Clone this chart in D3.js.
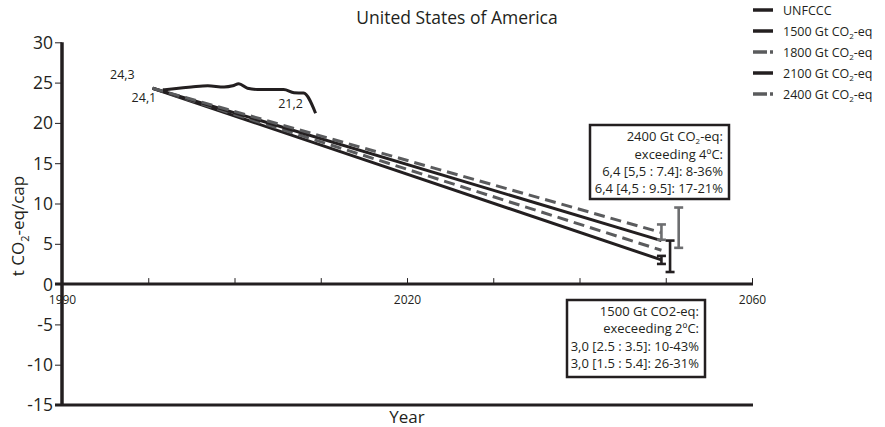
<!DOCTYPE html>
<html>
<head>
<meta charset="utf-8">
<script src="https://cdn.jsdelivr.net/npm/d3@7"></script>
<style>
  html, body { margin: 0; padding: 0; background: #fff; }
  svg { display: block; font-family: "Open Sans", sans-serif; }
</style>
</head>
<body>
<svg id="chart" width="885" height="427"></svg>
<script>
// ---- data ----
const title = "United States of America";
const xTickYears = [1980, 1990, 2000, 2010, 2020, 2030, 2040, 2050, 2060];
const xTickLabels = ["1990", "", "", "", "2020", "", "", "", "2060"];
const yTicks = [-15, -10, -5, 0, 5, 10, 15, 20, 25, 30];

// reported inventory (UNFCCC), t CO2-eq per capita
const unfYears  = [1991.7, 1993.0, 1995.0, 1996.9, 1998.8, 1999.8, 2000.5, 2001.5, 2002.7, 2005.7, 2006.9, 2008.0, 2009.4];
const unfValues = [24.1, 24.25, 24.45, 24.6, 24.45, 24.6, 24.85, 24.3, 24.15, 24.15, 23.75, 23.7, 21.2];

// budget pathways: start and end values
const scenarioNames = ["1500 Gt CO2-eq", "1800 Gt CO2-eq", "2100 Gt CO2-eq", "2400 Gt CO2-eq"];
const scenarioYears = [1990.5, 2049.5];
const scenarioStart = [24.3, 24.3, 24.3, 24.3];
const scenarioEnd   = [3.0, 4.2, 5.4, 6.4];
const scenarioDashed = [false, true, false, true];

// uncertainty ranges at 2050
const rangeNames = ["1500 narrow", "1500 wide", "2400 narrow", "2400 wide"];
const rangeYears = [2049.5, 2050.5, 2049.5, 2051.5];
const rangeLow   = [2.5, 1.5, 5.5, 4.5];
const rangeHigh  = [3.5, 5.4, 7.4, 9.5];
const rangeGray  = [false, false, true, true];

const legendNames = ["UNFCCC", "1500 Gt CO", "1800 Gt CO", "2100 Gt CO", "2400 Gt CO"];
const legendDashed = [false, false, true, false, true];

const box4Lines = ["2400 Gt CO|2|-eq:", "exceeding 4ºC:", "6,4 [5,5 : 7.4]: 8-36%", "6,4 [4,5 : 9.5]: 17-21%"];
const box2Lines = ["1500 Gt CO2-eq:", "execeeding 2ºC:", "3,0 [2.5 : 3.5]: 10-43%", "3,0 [1.5 : 5.4]: 26-31%"];

// ---- drawing ----
const BLACK = "#231f20", DASH = "#5a5b5d", GRAYBAR = "#6d6e70";
const svg = d3.select("#chart");

const x = d3.scaleLinear().domain([1980, 2060]).range([62, 752]);
const y = d3.scaleLinear().domain([-15, 30]).range([405, 42.3]);

// title
svg.append("text").attr("x", 457).attr("y", 24).attr("text-anchor", "middle")
  .attr("font-size", 17.5).attr("fill", BLACK).text(title);

// y axis
const yAxis = svg.append("g").attr("transform", `translate(${x(1980)},0)`)
  .call(d3.axisLeft(y).tickValues(yTicks).tickSize(7).tickPadding(2).tickFormat(d => String(d)));
yAxis.select(".domain").remove();
yAxis.selectAll(".tick line").attr("stroke", BLACK).attr("stroke-width", 1);
yAxis.selectAll(".tick text").attr("font-size", 17.5).attr("fill", BLACK)
  .attr("font-family", "'Open Sans', sans-serif").attr("dy", "0.34em");
svg.append("line").attr("x1", x(1980)).attr("x2", x(1980)).attr("y1", y(30)).attr("y2", y(-15))
  .attr("stroke", BLACK).attr("stroke-width", 3.5);

// x axis along zero
const xAxis = svg.append("g").attr("transform", `translate(0,${y(0)})`)
  .call(d3.axisBottom(x).tickValues(xTickYears).tickSizeInner(-6).tickSizeOuter(0).tickPadding(11)
    .tickFormat((d, i) => xTickLabels[i]));
xAxis.select(".domain").remove();
xAxis.selectAll(".tick line").attr("stroke", BLACK).attr("stroke-width", 1);
xAxis.selectAll(".tick text").attr("font-size", 12).attr("fill", BLACK)
  .attr("font-family", "'Open Sans', sans-serif");
svg.append("line").attr("x1", x(1980) - 7).attr("x2", x(2060) + 1).attr("y1", y(0)).attr("y2", y(0))
  .attr("stroke", BLACK).attr("stroke-width", 3);
svg.append("line").attr("x1", x(1980) - 7).attr("x2", x(2060) + 1).attr("y1", y(-15)).attr("y2", y(-15))
  .attr("stroke", BLACK).attr("stroke-width", 3);

// axis titles
svg.append("text").attr("x", x(2020)).attr("y", 423).attr("text-anchor", "middle")
  .attr("font-size", 17).attr("fill", BLACK).text("Year");
const yl = svg.append("text").attr("transform", "translate(24,226) rotate(-90)")
  .attr("text-anchor", "middle").attr("font-size", 17).attr("fill", BLACK);
yl.append("tspan").text("t CO");
yl.append("tspan").attr("font-size", 11).attr("dy", 5).text("2");
yl.append("tspan").attr("dy", -5).text("-eq/cap");

// scenario pathways
const line = d3.line().x(d => x(d[0])).y(d => y(d[1]));
scenarioNames.forEach((name, i) => {
  const pts = [[scenarioYears[0], scenarioStart[i]], [scenarioYears[1], scenarioEnd[i]]];
  svg.append("path").datum(pts).attr("d", line).attr("fill", "none")
    .attr("stroke", scenarioDashed[i] ? DASH : BLACK).attr("stroke-width", 3)
    .attr("stroke-dasharray", scenarioDashed[i] ? "11,6" : null);
});

// inventory line
const unfPts = unfYears.map((yr, i) => [yr, unfValues[i]]);
svg.append("path").datum(unfPts)
  .attr("d", d3.line().x(d => x(d[0])).y(d => y(d[1])).curve(d3.curveMonotoneX))
  .attr("fill", "none").attr("stroke", BLACK).attr("stroke-width", 3);

// uncertainty bars
rangeNames.forEach((n, i) => {
  const g = svg.append("g").attr("stroke", rangeGray[i] ? GRAYBAR : BLACK).attr("stroke-width", 2.6);
  const cx = x(rangeYears[i]);
  g.append("line").attr("x1", cx).attr("x2", cx).attr("y1", y(rangeHigh[i])).attr("y2", y(rangeLow[i]));
  [rangeHigh[i], rangeLow[i]].forEach(v => {
    g.append("line").attr("x1", cx - 4.5).attr("x2", cx + 4.5).attr("y1", y(v)).attr("y2", y(v));
  });
});

// point labels
const lab = (t, px, py) => svg.append("text").attr("x", px).attr("y", py).attr("text-anchor", "middle")
  .attr("font-size", 12.5).attr("fill", BLACK).text(t);
lab("24,3", x(1987), y(25.4));
lab("24,1", x(1989.5), y(22.6));
lab("21,2", x(2006.5), y(21.9));

// annotation boxes
function box(lines, x0, y0, x1, y1, baselines) {
  svg.append("rect").attr("x", x0).attr("y", y0).attr("width", x1 - x0).attr("height", y1 - y0)
    .attr("fill", "#fff").attr("stroke", BLACK).attr("stroke-width", 2.5);
  lines.forEach((t, i) => {
    const tx = svg.append("text").attr("x", x1 - 6).attr("y", baselines[i]).attr("text-anchor", "end")
      .attr("font-size", 13).attr("fill", BLACK);
    const parts = t.split("|");
    if (parts.length === 3) {
      tx.append("tspan").text(parts[0]);
      tx.append("tspan").attr("font-size", 8).attr("dy", 3).text(parts[1]);
      tx.append("tspan").attr("dy", -3).text(parts[2]);
    } else tx.text(t);
  });
}
box(box4Lines, 590, 125, 729, 199, [141, 159, 176, 193]);
box(box2Lines, 567, 300, 705, 377, [316, 333, 351, 368]);

// legend
const lg = svg.append("g");
legendNames.forEach((n, i) => {
  const ly = 10 + i * 21;
  if (legendDashed[i]) {
    lg.append("line").attr("x1", 753).attr("x2", 767).attr("y1", ly).attr("y2", ly)
      .attr("stroke", DASH).attr("stroke-width", 3.5);
    lg.append("line").attr("x1", 770).attr("x2", 773).attr("y1", ly).attr("y2", ly)
      .attr("stroke", DASH).attr("stroke-width", 3.5);
  } else {
    lg.append("line").attr("x1", 753).attr("x2", 773).attr("y1", ly).attr("y2", ly)
      .attr("stroke", BLACK).attr("stroke-width", 3.5);
  }
  const t = lg.append("text").attr("x", 783).attr("y", ly + 4.5).attr("font-size", 12.5).attr("fill", BLACK);
  t.append("tspan").text(n);
  if (i > 0) {
    t.append("tspan").attr("font-size", 8).attr("dy", 3).text("2");
    t.append("tspan").attr("dy", -3).text("-eq");
  }
});
</script>
</body>
</html>
